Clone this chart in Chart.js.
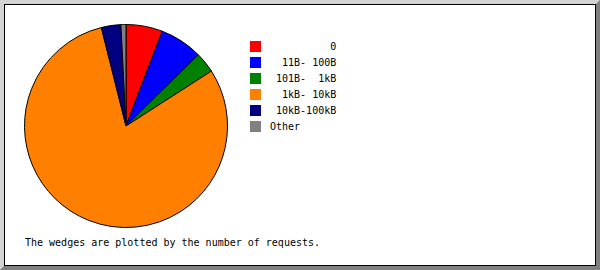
<!DOCTYPE html>
<html lang="en">
<head>
    <meta charset="UTF-8">
    <title>Request size pie</title>
    <script src="https://cdn.jsdelivr.net/npm/chart.js"></script>
    <style>
        body {
            margin: 0;
            width: 600px;
            height: 270px;
            overflow: hidden;
            background: #ffffff;
            font-family: "DejaVu Sans Mono", monospace;
            font-size: 10px;
        }
        #frame {
            position: absolute;
            left: 0;
            top: 0;
            width: 600px;
            height: 270px;
            box-sizing: border-box;
            border: 4px solid;
            border-color: #d3d3d3 #808080 #808080 #d3d3d3;
        }
        #inner {
            position: absolute;
            left: 0;
            top: 0;
            right: 0;
            bottom: 0;
            border: 1px solid #000;
            background: #fff;
        }
        #pieBox {
            position: absolute;
            left: 19px;
            top: 19px;
            width: 204px;
            height: 204px;
        }
        #legend {
            position: absolute;
            left: 245px;
            top: 36px;
        }
        .row {
            height: 16px;
            position: relative;
        }
        .sw {
            position: absolute;
            left: 0;
            top: 0;
            width: 11px;
            height: 11px;
        }
        .lab {
            position: absolute;
            left: 20px;
            top: 0px;
            line-height: 12px;
            white-space: pre;
            color: #000;
        }
        #note {
            position: absolute;
            left: 20px;
            top: 232px;
            line-height: 12px;
            white-space: pre;
            color: #000;
        }
    </style>
</head>
<body>

<div id="frame">
    <div id="inner">
        <div id="pieBox"><canvas id="pie" width="204" height="204"></canvas></div>
        <div id="legend"></div>
        <div id="note">The wedges are plotted by the number of requests.</div>
    </div>
</div>

<script>
// size classes, in the order the wedges go round (clockwise from 12 o'clock)
const sizeLabels = ['         0', ' 11B- 100B', '101B-  1kB', ' 1kB- 10kB', '10kB-100kB', 'Other'];
// share of requests (%)
const requestShare = [5.8, 6.8, 3.3, 80.2, 3.1, 0.8];
const wedgeColors = ['#ff0000', '#0000ff', '#008000', '#ff8000', '#000080', '#808080'];

// legend next to the pie
const legend = document.getElementById('legend');
sizeLabels.forEach((lab, i) => {
    const row = document.createElement('div');
    row.className = 'row';
    const sw = document.createElement('div');
    sw.className = 'sw';
    sw.style.background = wedgeColors[i];
    const txt = document.createElement('div');
    txt.className = 'lab';
    // the size classes are right aligned, "Other" is not
    txt.textContent = (lab === 'Other' ? lab : ' ' + lab);
    row.appendChild(sw);
    row.appendChild(txt);
    legend.appendChild(row);
});

new Chart(document.getElementById('pie'), {
    type: 'pie',
    data: {
        labels: sizeLabels.map(s => s.trim()),
        datasets: [{
            data: requestShare,
            backgroundColor: wedgeColors,
            borderColor: '#000000',
            borderWidth: 1
        }]
    },
    options: {
        responsive: false,
        animation: false,
        layout: { padding: 0 },
        plugins: {
            legend: { display: false },
            tooltip: { enabled: false }
        }
    }
});
</script>

</body>
</html>
